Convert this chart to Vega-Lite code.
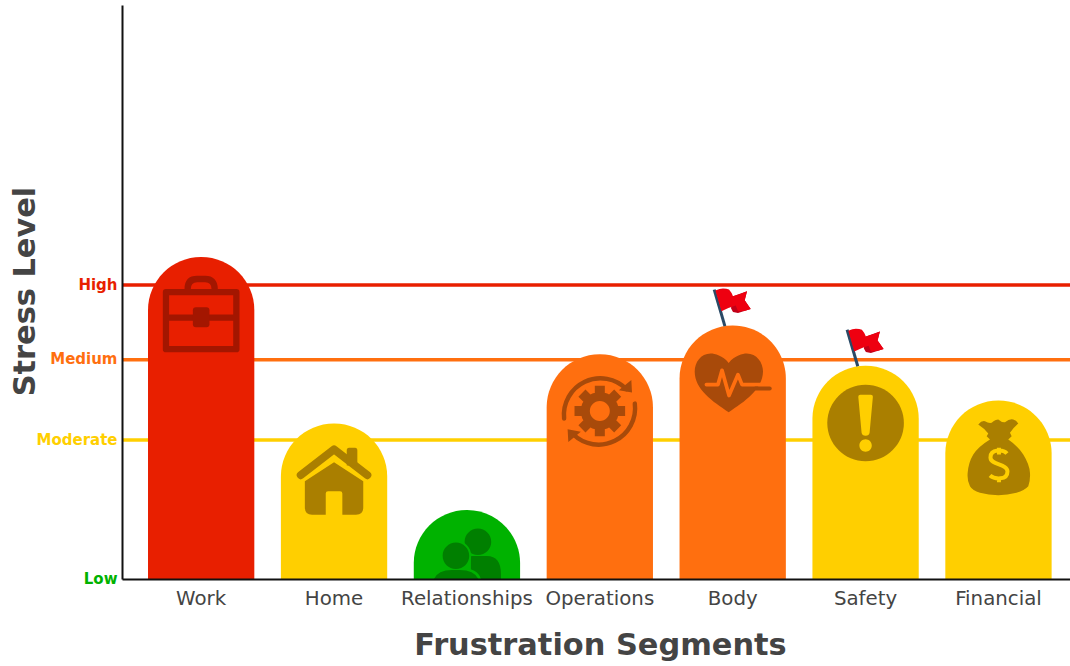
{
"$schema":"https://vega.github.io/schema/vega-lite/v6.json",
"width":948,"height":574,"autosize":"none",
"padding":{"left":122,"top":5,"right":0,"bottom":87},
"background":"white",
"config":{"view":{"stroke":null},"font":"DejaVu Sans"},
"datasets":{
"segments":[
{"segment":"Work","value":56.1,"level":"High","flagged":false},
{"segment":"Home","value":27.1,"level":"Moderate","flagged":false},
{"segment":"Relationships","value":12,"level":"Low","flagged":false},
{"segment":"Operations","value":39.15,"level":"Medium","flagged":false},
{"segment":"Body","value":44.15,"level":"Medium","flagged":true},
{"segment":"Safety","value":37.15,"level":"Moderate","flagged":true},
{"segment":"Financial","value":31.1,"level":"Moderate","flagged":false}],
"levels":[
{"level":"Moderate","value":24.2},
{"level":"Medium","value":38.2},
{"level":"High","value":51.2}]},
"layer":[
{"data":{"name":"levels"},
"mark":{"type":"rule","strokeWidth":3.5},
"encoding":{
"y":{"field":"value","type":"quantitative","scale":{"domain":[0,100],"nice":false},
"axis":{"title":"Stress Level","values":[0,24.2,38.2,51.2],"labelExpr":"datum.value==0?'Low':datum.value<30?'Moderate':datum.value<45?'Medium':'High'","labelFontWeight":"bold","labelFontSize":15,"labelPadding":5,"labelOffset":-1,"labelColor":{"condition":[{"test":"datum.value==0","value":"#00b200"},{"test":"datum.value<30","value":"#ffcf00"},{"test":"datum.value<45","value":"#ff6f0f"}],"value":"#e81f00"},"ticks":false,"grid":false,"domainColor":"#111","domainWidth":2,"titleFontSize":30.4,"titleFontWeight":"bold","titleColor":"#444","titleX":-97,"titleY":286,"titleBaseline":"middle","zindex":1}},
"color":{"field":"level","type":"nominal","legend":null,"scale":{"domain":["Low","Moderate","Medium","High"],"range":["#00b200","#ffcf00","#ff6f0f","#e81f00"]}}}},
{"data":{"name":"segments"},
"encoding":{
"x":{"field":"segment","type":"nominal","sort":null,"scale":{"type":"band","paddingInner":0.2,"paddingOuter":0.167,"align":0.586},
"axis":{"title":"Frustration Segments","labelAngle":0,"labelFontSize":19.8,"labelColor":"#444","labelPadding":9,"ticks":false,"domainColor":"#111","domainWidth":2,"titleFontSize":30.4,"titleFontWeight":"bold","titleColor":"#444","titleX":478,"titleY":66,"titleBaseline":"middle","zindex":1}},
"y":{"field":"value","type":"quantitative"}},
"layer":[
{"mark":{"type":"bar","clip":true,"cornerRadiusTopLeft":53,"cornerRadiusTopRight":53},
"encoding":{"y2":{"datum":-10},"color":{"field":"level","type":"nominal"}}},

{"transform":[{"filter":"datum.segment=='Work'"}],
"mark":{"type":"point","size":4,"opacity":1,"filled":false,"stroke":"#a31600","strokeWidth":6.3,"strokeJoin":"round","shape":"M-35.2 35.2 H35.2 V92.2 H-35.2 Z M-35.2 60.7 H35.2 M-13.5 33 V32 Q-13.5 22 -4 22 H4 Q13.5 22 13.5 32 V33"}},
{"transform":[{"filter":"datum.segment=='Work'"}],
"mark":{"type":"point","size":4,"opacity":1,"filled":true,"fill":"#a31600","shape":"M-5.3 50.3 H5.3 Q8.3 50.3 8.3 53.3 V67.3 Q8.3 70.3 5.3 70.3 H-5.3 Q-8.3 70.3 -8.3 67.3 V53.3 Q-8.3 50.3 -5.3 50.3 Z"}},

{"transform":[{"filter":"datum.segment=='Home'"}],
"mark":{"type":"point","size":4,"opacity":1,"filled":false,"stroke":"#aa7f00","strokeWidth":8,"strokeCap":"round","strokeJoin":"round","shape":"M-33.3 51.7 L0 26 L33.3 51.7"}},
{"transform":[{"filter":"datum.segment=='Home'"}],
"mark":{"type":"point","size":4,"opacity":1,"filled":true,"fill":"#aa7f00","shape":"M0 38.7 L29.2 57.7 V84 Q29.2 91.3 22 91.3 H8.3 V70 Q8.3 67.7 6 67.7 H-6 Q-8.3 67.7 -8.3 70 V91.3 H-22 Q-29.2 91.3 -29.2 84 V57.7 Z M12.7 27 Q12.7 24.3 15 24.3 H21 Q23.3 24.3 23.3 27 V42 H12.7 Z"}},

{"transform":[{"filter":"datum.segment=='Relationships'"}],
"mark":{"type":"point","size":4,"opacity":1,"filled":true,"fill":"#007f00","shape":"M-2.3 31.7 A13.3 13.3 0 1 1 24.3 31.7 A13.3 13.3 0 1 1 -2.3 31.7 Z M4 46 H20 Q34 46 34 64 V69 H4 Z"}},
{"transform":[{"filter":"datum.segment=='Relationships'"}],
"mark":{"type":"point","size":4,"opacity":1,"filled":true,"fill":"#00b200","shape":"M-26.3 45.7 A15.3 15.3 0 1 1 4.3 45.7 A15.3 15.3 0 1 1 -26.3 45.7 Z M-35 69 Q-32 58 -15 58 H-7 Q11 58 14 69 Z"}},
{"transform":[{"filter":"datum.segment=='Relationships'"}],
"mark":{"type":"point","size":4,"opacity":1,"filled":true,"fill":"#007f00","shape":"M-24.3 45.7 A13.3 13.3 0 1 1 2.3 45.7 A13.3 13.3 0 1 1 -24.3 45.7 Z M-33 69 Q-29 60 -15 60 H-7 Q7 60 11.5 69 Z"}},

{"transform":[{"filter":"datum.segment=='Operations'"}],
"mark":{"type":"point","size":4,"opacity":1,"filled":false,"stroke":"#a84a0a","strokeWidth":4.4,"strokeCap":"round","shape":"M-35.7 64.3 A36.5 36.5 0 0 1 26.7 35 M35 49.3 A36.5 36.5 0 0 1 -26.7 80"}},
{"transform":[{"filter":"datum.segment=='Operations'"}],
"mark":{"type":"point","size":4,"opacity":1,"filled":true,"fill":"#a84a0a","shape":"M31.5 25.7 L32.2 38.2 L19 36 Z M-32.2 75 L-19 77.4 L-31.5 87.7 Z M-25.3 51.7 H25.3 V61.7 H-25.3 Z M-5 31.4 H5 V82 H-5 Z M-21.4 42.35 L-14.35 35.3 L21.4 71.05 L14.35 78.1 Z M14.35 35.3 L21.4 42.35 L-14.35 78.1 L-21.4 71.05 Z M-19 56.7 A19 19 0 1 1 19 56.7 A19 19 0 1 1 -19 56.7 Z"}},
{"transform":[{"filter":"datum.segment=='Operations'"}],
"mark":{"type":"point","size":4,"opacity":1,"filled":true,"fill":"#ff6f0f","shape":"M-10 56.7 A10 10 0 1 1 10 56.7 A10 10 0 1 1 -10 56.7 Z"}},

{"transform":[{"filter":"datum.segment=='Body'"}],
"mark":{"type":"point","size":4,"opacity":1,"filled":true,"fill":"#a84a0a","shape":"M-4 37.3 C-10 30 -18 28 -22 28 C-32 28 -38 37 -38 46 C-38 64 -20 76 -4 86.7 C12 76 30 64 30.3 46 C30.3 37 24 28 14 28 C10 28 2 30 -4 37.3 Z"}},
{"transform":[{"filter":"datum.segment=='Body'"}],
"mark":{"type":"point","size":4,"opacity":1,"filled":false,"stroke":"#ff6f0f","strokeWidth":3.7,"strokeCap":"round","strokeJoin":"round","shape":"M-26.3 59 H-14.7 L-10.7 44.7 L-3.7 70 L5.3 49 L9.3 59 H30"}},
{"transform":[{"filter":"datum.segment=='Body'"}],
"mark":{"type":"point","size":4,"opacity":1,"filled":false,"stroke":"#a84a0a","strokeWidth":4,"strokeCap":"round","shape":"M23 63 H37"}},

{"transform":[{"filter":"datum.segment=='Safety'"}],
"mark":{"type":"point","size":4,"opacity":1,"filled":true,"fill":"#aa7f00","shape":"M-38.3 57.3 A38.3 38.3 0 1 1 38.3 57.3 A38.3 38.3 0 1 1 -38.3 57.3 Z"}},
{"transform":[{"filter":"datum.segment=='Safety'"}],
"mark":{"type":"point","size":4,"opacity":1,"filled":true,"fill":"#ffcf00","shape":"M-5.3 29 H5.3 Q7.3 29 7.3 31 L4 67 Q3.5 70 0 70 Q-3.5 70 -4 67 L-7.3 31 Q-7.3 29 -5.3 29 Z M-6.2 79.7 A6.2 6.2 0 1 1 6.2 79.7 A6.2 6.2 0 1 1 -6.2 79.7 Z"}},

{"transform":[{"filter":"datum.segment=='Financial'"}],
"mark":{"type":"point","size":4,"opacity":1,"filled":true,"fill":"#aa7f00","shape":"M-20.2 24 Q-17 20 -13.5 20.7 Q-10 23 -6.8 22.3 Q-3 19 -0.2 19 Q3 22 6.5 21.7 Q11 18 14.8 19 Q18 20 19.8 23 Q15 27 11.5 32.3 L13.2 35.7 L9.8 39 Q20 46 24.8 54 Q31 64 31.5 72.3 Q32 80 29.8 85.7 Q26 90 18 92.3 Q9 94.7 -0.2 94.7 Q-10 94.7 -18.5 92.3 Q-26 90 -28.5 85.7 Q-31.5 80 -30.8 72.3 Q-30 62 -25.2 54 Q-20 46 -8.5 39 L-11.8 35.7 L-10.2 33 Q-14 28 -20.2 24 Z"}},
{"transform":[{"filter":"datum.segment=='Financial'"}],
"mark":{"type":"point","size":4,"opacity":1,"filled":false,"stroke":"#ffcf00","strokeWidth":4,"strokeJoin":"round","shape":"M8.5 53 C5 49 -8 48 -8 57 C-8 65 9 63 9 71 C9 80 -4 79 -8.5 75 M0.5 47.3 V54 M0.5 76 V81.7"}},

{"transform":[{"filter":"datum.flagged"}],
"mark":{"type":"point","size":4,"opacity":1,"filled":false,"stroke":"#2a4a66","strokeWidth":3,"shape":"M-18.5 -36 L-7.8 0.5"}},
{"transform":[{"filter":"datum.flagged"}],
"mark":{"type":"point","size":4,"opacity":1,"filled":true,"fill":"#c00018","shape":"M0.3 -29.3 L14.3 -34.3 L12 -25.3 L18 -16.7 L5.3 -12.7 L0.3 -13.7 L-1.7 -17.3 Z"}},
{"transform":[{"filter":"datum.flagged"}],
"mark":{"type":"point","size":4,"opacity":1,"filled":true,"fill":"#ee0010","shape":"M-17.3 -35 Q-13 -37 -9.7 -37 Q-6 -37 -3.7 -36 Q-1 -33 0.3 -29.3 Q7 -31 14.3 -34.3 L12 -25.3 L18 -16.7 Q11 -14 5.3 -14.5 L3 -20 Q-4 -18 -11.3 -14.3 Z"}}
]}
]}
